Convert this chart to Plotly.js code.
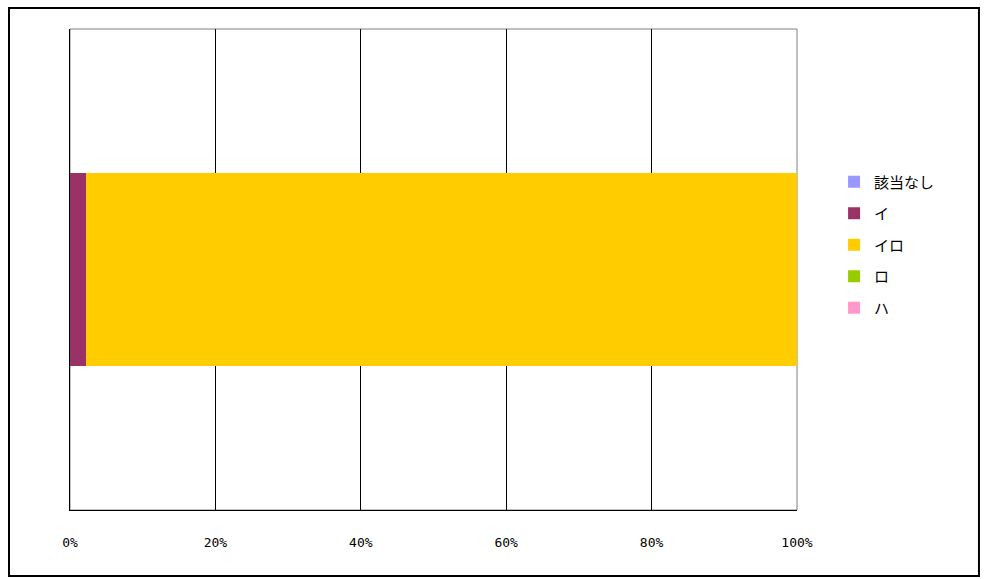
<!DOCTYPE html>
<html>
<head>
<meta charset="utf-8">
<script src="https://cdn.plot.ly/plotly-3.0.1.min.js"></script>
<style>html,body{margin:0;padding:0;background:#fff;}#chart{width:985px;height:579px;}</style>
</head>
<body>
<div id="chart"></div>
<script>
const category = [''];
const seriesNames = ['該当なし', 'イ', 'イロ', 'ロ', 'ハ'];
const seriesValues = [[0], [2.2], [97.8], [0], [0]];
const seriesColors = ['#9999FF', '#993366', '#FFCC00', '#99CC00', '#FF99CC'];
const tickValues = [0, 20, 40, 60, 80, 100];
const tickLabels = ['0%', '20%', '40%', '60%', '80%', '100%'];

const traces = seriesNames.map((n, i) => ({
  type: 'bar', orientation: 'h', name: n, y: category, x: seriesValues[i],
  marker: {color: seriesColors[i], line: {width: 0}}, width: 0.4,
  legendgroup: 'g' + i, hoverinfo: 'x+name'
}));

const layout = {
  width: 985, height: 579,
  margin: {l: 70, r: 188, t: 29, b: 69},
  barmode: 'stack',
  paper_bgcolor: '#fff', plot_bgcolor: '#fff',
  font: {family: '"Noto Sans CJK JP", "DejaVu Sans", sans-serif', color: '#000', size: 12},
  xaxis: {range: [0, 100], tickvals: tickValues, ticktext: tickLabels, showgrid: true,
    gridcolor: '#000', gridwidth: 1, showline: true, linecolor: '#000', linewidth: 1,
    ticks: '', zeroline: false, ticklabelstandoff: 20,
    tickfont: {family: '"DejaVu Sans Mono", monospace', size: 13}, fixedrange: true},
  yaxis: {range: [-0.5, 0.5], showticklabels: false, showgrid: false, showline: true,
    linecolor: '#000', linewidth: 1, zeroline: false, ticks: '', fixedrange: true},
  showlegend: true,
  legend: {x: 1.051, y: 0.716, xanchor: 'left', yanchor: 'top', traceorder: 'grouped',
    tracegroupgap: 9, font: {size: 15}, itemwidth: 30, bgcolor: 'rgba(0,0,0,0)'},
  shapes: [
    {type: 'rect', xref: 'paper', yref: 'paper', x0: 0, x1: 1, y0: 0, y1: 1,
      line: {color: '#808080', width: 1}, layer: 'below'},
    {type: 'rect', xref: 'paper', yref: 'paper', x0: -0.0839, x1: 1.2503, y0: -0.1372, y1: 1.0437,
      line: {color: '#000', width: 2}}
  ]
};
Plotly.newPlot('chart', traces, layout, {displayModeBar: false, staticPlot: true});
</script>
</body>
</html>
